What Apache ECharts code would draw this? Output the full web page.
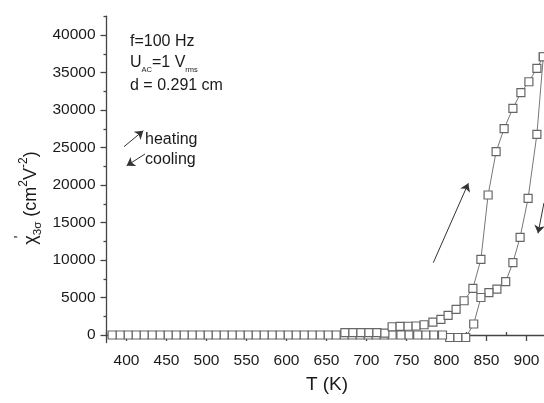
<!DOCTYPE html>
<html>
<head>
<meta charset="utf-8">
<script src="https://cdn.jsdelivr.net/npm/echarts@6/dist/echarts.min.js"></script>
<style>
html,body{margin:0;padding:0;background:#fff;}
#c{width:544px;height:403px;}
</style>
</head>
<body>
<div id="c"></div>
<script>
// ---- data ----
var heatT = [673, 683, 693, 703, 713, 723, 732, 742, 752, 762, 772, 783, 793, 802, 812, 822, 833, 843, 852, 862, 872, 883, 893, 903, 913, 921];
var heatV = [330, 330, 330, 330, 330, 250, 1100, 1150, 1170, 1200, 1370, 1730, 2090, 2630, 3430, 4570, 6230, 10090, 18670, 24440, 27510, 30230, 32310, 33770, 35560, 37100];
var coolT = [921, 913, 902, 892, 883, 874, 863, 853, 843, 834, 824, 814, 804, 795, 784, 774, 764, 753, 743, 732,
             722, 712, 702, 692, 682, 672, 662, 652, 642, 632, 622, 612, 602, 592, 582, 572, 562, 552, 542, 532,
             522, 512, 502, 492, 482, 472, 462, 452, 442, 432, 422, 412, 402, 392, 382];
var coolV = [37100, 26760, 18230, 13030, 9640, 7110, 6130, 5640, 5000, 1470, -330, -330, -330, 0, 0, 0, 0, 0, 0, 0,
             0, 0, 0, 0, 0, 0, 0, 0, 0, 0, 0, 0, 0, 0, 0, 0, 0, 0, 0, 0,
             0, 0, 0, 0, 0, 0, 0, 0, 0, 0, 0, 0, 0, 0, 0];
var xMajor = [400, 450, 500, 550, 600, 650, 700, 750, 800, 850, 900];
var xMinor = [375, 425, 475, 525, 575, 625, 675, 725, 775, 825, 875];
var yMajor = [0, 5000, 10000, 15000, 20000, 25000, 30000, 35000, 40000];
var yMinor = [2500, 7500, 12500, 17500, 22500, 27500, 32500, 37500, 42500];
// arrows (data coordinates): [[T1,v1],[T2,v2]]
var arrows = [
  [[783.5, 9640], [827.3, 20230]],
  [[921.8, 17600], [914.4, 13560]],
  [[396.9, 25110], [421, 27240]],
  [[423.1, 24130], [400.2, 22570]]
];

function pairs(xs, ys) { return xs.map(function (x, i) { return [x, ys[i]]; }); }

var FONT = 'Liberation Sans';
var axisCol = '#444';
var txtCol = '#1a1a1a';
var xMin = 375, xMax = 921.875, yMin = -1000, yMax = 42500;

function xAx(major, len) {
  return {
    type: 'value', min: xMin, max: xMax,
    axisLine: { show: major, lineStyle: { color: axisCol, width: 1.3 } },
    axisTick: { show: true, length: len, customValues: major ? xMajor : xMinor, lineStyle: { color: axisCol, width: 1.3 } },
    axisLabel: { show: major, customValues: xMajor, margin: 10, color: txtCol, fontFamily: FONT, fontSize: 15.5, formatter: function (v) { return String(v); } },
    splitLine: { show: false }
  };
}
function yAx(major, len) {
  return {
    type: 'value', min: yMin, max: yMax, position: 'left',
    axisLine: { show: major, onZero: false, lineStyle: { color: axisCol, width: 1.3 } },
    axisTick: { show: true, length: len, customValues: major ? yMajor : yMinor, lineStyle: { color: axisCol, width: 1.3 } },
    axisLabel: { show: major, customValues: yMajor, margin: 11, color: txtCol, fontFamily: FONT, fontSize: 15.5, formatter: function (v) { return String(v); } },
    splitLine: { show: false }
  };
}

var sq = {
  type: 'line', symbol: 'rect', symbolSize: 8, showAllSymbol: true,
  lineStyle: { color: '#777', width: 1 },
  itemStyle: { color: '#fff', borderColor: '#666', borderWidth: 1.2 },
  emphasis: { disabled: true }, animation: false, clip: false
};

var chart = echarts.init(document.getElementById('c'), null, { renderer: 'canvas' });
chart.setOption({
  animation: false,
  backgroundColor: '#fff',
  grid: { left: 106.5, right: 0, top: 16.25, bottom: 60.5, containLabel: false },
  xAxis: [xAx(true, 6), xAx(false, 3)],
  yAxis: [yAx(true, 6), yAx(false, 3)],
  series: [
    Object.assign({}, sq, { name: 'cooling', data: pairs(coolT, coolV) }),
    Object.assign({}, sq, { name: 'heating', data: pairs(heatT, heatV),
      markLine: {
        silent: true, animation: false,
        symbol: ['none', 'arrow'], symbolSize: 8,
        label: { show: false },
        lineStyle: { color: '#333', width: 1, type: 'solid' },
        data: arrows.map(function (a) { return [{ coord: a[0] }, { coord: a[1] }]; })
      }
    })
  ],
  graphic: [
    { type: 'text', left: 130, top: 34, style: { text: 'f=100 Hz', font: '16px "Liberation Sans"', fill: txtCol } },
    { type: 'text', left: 130, top: 55, style: {
        text: '{m|U}{s|AC}{m|=1 V}{s|rms}', fill: txtCol,
        rich: { m: { fontSize: 16, fontFamily: FONT, lineHeight: 18, verticalAlign: 'bottom', fill: txtCol },
                s: { fontSize: 7.5, fontFamily: FONT, lineHeight: 18, verticalAlign: 'bottom', fill: txtCol, padding: [0, 0, -3, 0] } } } },
    { type: 'text', left: 130, top: 78, style: { text: 'd = 0.291 cm', font: '16px "Liberation Sans"', fill: txtCol } },
    { type: 'text', left: 145, top: 132, style: { text: 'heating', font: '16px "Liberation Sans"', fill: txtCol } },
    { type: 'text', left: 145, top: 152, style: { text: 'cooling', font: '16px "Liberation Sans"', fill: txtCol } },
    { type: 'text', x: 327, y: 385, style: { text: 'T (K)', font: '19px "Liberation Sans"', fill: txtCol, align: 'center', verticalAlign: 'middle' } },
    { type: 'text', x: 31, y: 198, rotation: Math.PI / 2, style: {
        text: '{m|χ}{s|3σ}{m| (cm}{u|2}{m|V}{u|-2}{m|)}', align: 'center', verticalAlign: 'middle', fill: txtCol,
        rich: { m: { fontSize: 18, fontFamily: FONT, lineHeight: 26, verticalAlign: 'middle', fill: txtCol },
                s: { fontSize: 11.5, fontFamily: FONT, lineHeight: 26, verticalAlign: 'bottom', fill: txtCol },
                u: { fontSize: 12, fontFamily: FONT, lineHeight: 26, verticalAlign: 'top', fill: txtCol } } } },
    { type: 'text', x: 20, y: 237, rotation: Math.PI / 2, style: { text: '\'', font: '14px "Liberation Sans"', fill: txtCol, align: 'center', verticalAlign: 'middle' } }
  ]
});
</script>
</body>
</html>
